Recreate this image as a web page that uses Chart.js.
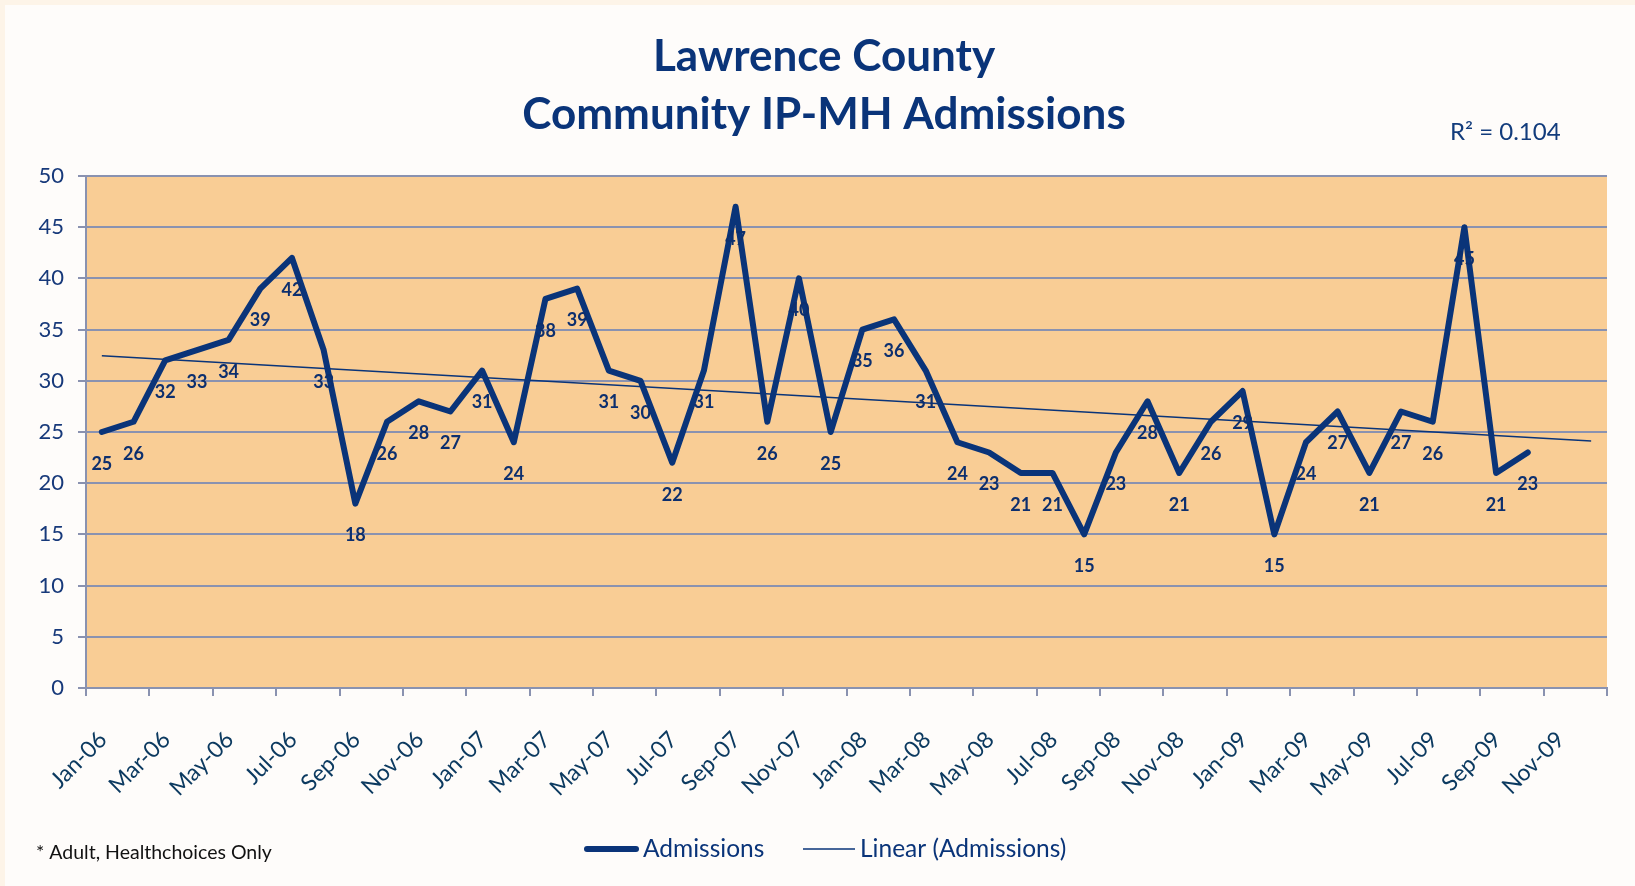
<!DOCTYPE html>
<html>
<head>
<meta charset="utf-8">
<script src="https://cdn.jsdelivr.net/npm/chart.js@4.4.1/dist/chart.umd.min.js"></script>
<style>
  html, body { margin: 0; padding: 0; background: #FDF4E8; }
  #wrap { width: 1635px; height: 886px; position: relative; }
  canvas { display: block; }
</style>
</head>
<body>
<div id="wrap"><canvas id="c" width="1635" height="886"></canvas></div>
<script>
// ---- Data ----
const monthLabels = [
  'Jan-06','Feb-06','Mar-06','Apr-06','May-06','Jun-06','Jul-06','Aug-06','Sep-06','Oct-06','Nov-06','Dec-06',
  'Jan-07','Feb-07','Mar-07','Apr-07','May-07','Jun-07','Jul-07','Aug-07','Sep-07','Oct-07','Nov-07','Dec-07',
  'Jan-08','Feb-08','Mar-08','Apr-08','May-08','Jun-08','Jul-08','Aug-08','Sep-08','Oct-08','Nov-08','Dec-08',
  'Jan-09','Feb-09','Mar-09','Apr-09','May-09','Jun-09','Jul-09','Aug-09','Sep-09','Oct-09','Nov-09','Dec-09'
];
const admissions = [
  25, 26, 32, 33, 34, 39, 42, 33, 18, 26, 28, 27,
  31, 24, 38, 39, 31, 30, 22, 31, 47, 26, 40, 25,
  35, 36, 31, 24, 23, 21, 21, 15, 23, 28, 21, 26,
  29, 15, 24, 27, 21, 27, 26, 45, 21, 23
];
// Linear trend line end points (Jan-06 and Dec-09)
const trendMonths = [0, 47];
const trendValues = [32.45, 24.11];
const rSquaredText = 'R² = 0.104';
const titleLines = ['Lawrence County', 'Community IP-MH Admissions'];
const seriesNames = ['Admissions', 'Linear (Admissions)'];
const footnote = '* Adult, Healthchoices Only';

// ---- Styles ----
const NAVY = '#0A3479';
const GRID = '#8A92B0';
const PLOT_BG = '#F9CD95';
const FONT = 'Lato, "Open Sans", sans-serif';

const admissionPoints = admissions.map((v, i) => ({ x: i + 0.5, y: v }));
const trendPoints = trendMonths.map((m, i) => ({ x: m + 0.5, y: trendValues[i] }));

const decorPlugin = {
  id: 'decor',
  beforeDraw(chart) {
    const ctx = chart.ctx;
    const a = chart.chartArea;
    ctx.save();
    ctx.fillStyle = '#FDF4E8';
    ctx.fillRect(0, 0, chart.width, chart.height);
    ctx.fillStyle = '#FEFCFA';
    ctx.fillRect(5, 5, chart.width - 5, chart.height - 5);
    ctx.fillStyle = PLOT_BG;
    ctx.fillRect(a.left, a.top, a.right - a.left, a.bottom - a.top);
    ctx.restore();
  },
  afterDatasetsDraw(chart) {
    const ctx = chart.ctx;
    const meta = chart.getDatasetMeta(0);
    ctx.save();
    ctx.font = 'bold 18px ' + FONT;
    ctx.fillStyle = '#0D2F6E';
    ctx.textAlign = 'center';
    ctx.textBaseline = 'middle';
    meta.data.forEach((pt, i) => {
      ctx.fillText(String(admissions[i]), pt.x, pt.y + 32);
    });
    ctx.restore();
  },
  afterDraw(chart) {
    const ctx = chart.ctx;
    ctx.save();
    // Title
    ctx.fillStyle = NAVY;
    ctx.font = 'bold 44px ' + FONT;
    ctx.textAlign = 'center';
    ctx.textBaseline = 'alphabetic';
    ctx.fillText(titleLines[0], 824, 71);
    ctx.fillText(titleLines[1], 824, 129);
    // R squared
    ctx.font = '24px ' + FONT;
    ctx.fillStyle = '#123C7C';
    ctx.textAlign = 'left';
    ctx.fillText(rSquaredText, 1450, 140);
    // Legend
    const ly = 849;
    ctx.strokeStyle = NAVY;
    ctx.lineCap = 'round';
    ctx.lineWidth = 6;
    ctx.beginPath(); ctx.moveTo(587, ly); ctx.lineTo(636, ly); ctx.stroke();
    ctx.lineCap = 'butt';
    ctx.lineWidth = 1.5;
    ctx.beginPath(); ctx.moveTo(803, ly); ctx.lineTo(855, ly); ctx.stroke();
    ctx.font = '24.5px ' + FONT;
    ctx.fillStyle = NAVY;
    ctx.textBaseline = 'middle';
    ctx.fillText(seriesNames[0], 643, ly);
    ctx.fillText(seriesNames[1], 860, ly);
    // Footnote
    ctx.font = '19.5px ' + FONT;
    ctx.fillStyle = '#111111';
    ctx.textBaseline = 'alphabetic';
    ctx.fillText(footnote, 36, 859);
    ctx.restore();
  }
};

new Chart(document.getElementById('c'), {
  type: 'line',
  data: {
    datasets: [
      {
        label: seriesNames[0],
        data: admissionPoints,
        borderColor: NAVY,
        borderWidth: 6,
        borderJoinStyle: 'round',
        borderCapStyle: 'round',
        pointRadius: 0,
        tension: 0,
        fill: false
      },
      {
        label: seriesNames[1],
        data: trendPoints,
        borderColor: NAVY,
        borderWidth: 1.5,
        pointRadius: 0,
        tension: 0,
        fill: false
      }
    ]
  },
  options: {
    responsive: false,
    animation: false,
    devicePixelRatio: 1,
    layout: { padding: { top: 176, right: 28, left: 0, bottom: 0 } },
    plugins: {
      legend: { display: false },
      title: { display: false },
      tooltip: { enabled: false }
    },
    scales: {
      x: {
        type: 'linear',
        min: 0,
        max: 48,
        afterFit(scale) {
          scale.height = 886 - 688;
          scale.paddingRight = 0;
          scale.paddingLeft = 0;
        },
        ticks: {
          stepSize: 2,
          autoSkip: false,
          minRotation: 45,
          maxRotation: 45,
          padding: 30,
          labelOffset: 17,
          color: '#0C3A60',
          font: { family: FONT, size: 23 },
          callback: (v) => (monthLabels[v] !== undefined && v < 47 ? monthLabels[v] : '')
        },
        grid: {
          display: true,
          drawOnChartArea: false,
          drawTicks: true,
          tickLength: 8,
          color: GRID,
          lineWidth: 2
        },
        border: { display: true, color: GRID, width: 2 }
      },
      y: {
        min: 0,
        max: 50,
        afterFit(scale) { scale.width = 86; },
        ticks: {
          stepSize: 5,
          padding: 14,
          color: '#17397A',
          font: { family: FONT, size: 22 }
        },
        grid: {
          color: GRID,
          lineWidth: 2,
          tickLength: 8
        },
        border: { display: true, color: GRID, width: 2 }
      }
    }
  },
  plugins: [decorPlugin]
});
</script>
</body>
</html>
